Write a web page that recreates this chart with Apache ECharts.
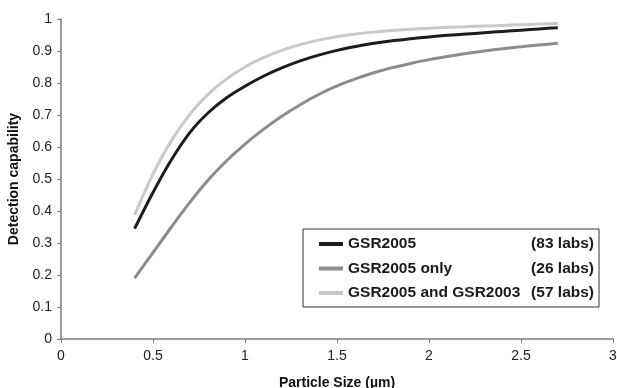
<!DOCTYPE html>
<html style="height: 100%">
	<head>
		<meta charset="utf-8" />
		<script src="https://cdn.jsdelivr.net/npm/echarts@6/dist/echarts.min.js"></script>
		<title>Detection capability</title>
	</head>
	<body style="height: 100%; margin: 0; background: #fff">
		<div id="container" style="width: 617px; height: 388px"></div>
		<script type="text/javascript">
			// particle sizes (um)
			let sizes = [0.4, 0.5, 0.6, 0.7, 0.8, 0.9, 1.0, 1.1, 1.2, 1.3, 1.4, 1.5,
				1.6, 1.7, 1.8, 1.9, 2.0, 2.1, 2.2, 2.3, 2.4, 2.5, 2.6, 2.7];

			// detection capability
			let gsr2005 = [0.345, 0.458, 0.560, 0.645, 0.707, 0.754, 0.790, 0.821, 0.847, 0.869, 0.887, 0.902,
				0.914, 0.924, 0.932, 0.938, 0.944, 0.949, 0.953, 0.957, 0.961, 0.965, 0.969, 0.973];
			let gsr2005only = [0.19, 0.270, 0.350, 0.427, 0.497, 0.557, 0.609, 0.655, 0.696, 0.732, 0.764, 0.791,
				0.813, 0.832, 0.848, 0.861, 0.873, 0.883, 0.892, 0.900, 0.907, 0.913, 0.919, 0.924];
			let gsrBoth = [0.388, 0.515, 0.620, 0.702, 0.765, 0.813, 0.850, 0.879, 0.902, 0.920, 0.934, 0.945,
				0.953, 0.959, 0.964, 0.968, 0.971, 0.974, 0.976, 0.978, 0.980, 0.982, 0.984, 0.986];

			let seriesNames = ["GSR2005", "GSR2005 only", "GSR2005 and GSR2003"];
			let labCounts = ["(83 labs)", "(26 labs)", "(57 labs)"];
			let colors = ["#1c1c1c", "#8c8c8c", "#c9c9c9"];
			let xTicks = [0, 0.5, 1, 1.5, 2, 2.5, 3];

			let allValues = [gsr2005, gsr2005only, gsrBoth];
			let font = "Liberation Sans, Arial, sans-serif";

			let series = seriesNames.map((name, i) => ({
				name: name,
				type: "line",
				data: sizes.map((s, j) => [s, allValues[i][j]]),
				smooth: 0.3,
				showSymbol: false,
				lineStyle: { color: colors[i], width: 3 },
				itemStyle: { color: colors[i] },
				z: 3 - i,
			}));

			let chart = echarts.init(document.getElementById("container"));
			chart.setOption({
				animation: false,
				grid: { left: 61, right: 4, top: 19, bottom: 49, outerBoundsMode: "none", containLabel: false },
				xAxis: {
					type: "value",
					min: 0,
					max: 3,
					interval: 0.5,
					splitLine: { show: false },
					axisLine: { lineStyle: { color: "#7a7a7a", width: 1.5 } },
					axisTick: { show: true, length: 4, lineStyle: { color: "#7a7a7a" } },
					axisLabel: {
						color: "#222",
						fontFamily: font,
						fontSize: 14,
						margin: 10,
						formatter: (v) => (xTicks.indexOf(v) >= 0 ? String(v) : ""),
					},
					name: "Particle Size (µm)",
					nameLocation: "middle",
					nameGap: 37,
					nameTextStyle: { color: "#111", fontFamily: font, fontSize: 14, fontWeight: "bold" },
				},
				yAxis: {
					type: "value",
					min: 0,
					max: 1,
					interval: 0.1,
					splitLine: { show: false },
					axisLine: { show: true, lineStyle: { color: "#7a7a7a", width: 1.5 } },
					axisTick: { show: true, length: 4, lineStyle: { color: "#7a7a7a" } },
					axisLabel: {
						color: "#222",
						fontFamily: font,
						fontSize: 14,
						margin: 9,
						formatter: (v) => String(Math.round(v * 10) / 10),
					},
					name: "Detection capability",
					nameLocation: "middle",
					nameGap: 32,
					nameTextStyle: { color: "#111", fontFamily: font, fontSize: 14, fontWeight: "bold" },
				},
				legend: {
					orient: "vertical",
					left: 303,
					top: 229,
					padding: [7, 5, 6, 16],
					itemGap: 8.5,
					itemWidth: 24,
					itemHeight: 4,
					icon: "rect",
					borderColor: "#333",
					borderWidth: 1,
					borderRadius: 0,
					data: seriesNames,
					formatter: (name) => {
						let i = seriesNames.indexOf(name);
						return "{a|" + name + "}{b|" + labCounts[i] + "}";
					},
					textStyle: {
						fontFamily: font,
						fontSize: 15.5,
						fontWeight: "bold",
						color: "#1a1a1a",
						rich: {
							a: { fontFamily: font, fontSize: 15.5, fontWeight: "bold", color: "#1a1a1a", height: 22, width: 172 },
							b: { fontFamily: font, fontSize: 15.5, fontWeight: "bold", color: "#1a1a1a", height: 22, width: 74, align: "right" },
						},
					},
				},
				series: series,
			});
		</script>
	</body>
</html>
